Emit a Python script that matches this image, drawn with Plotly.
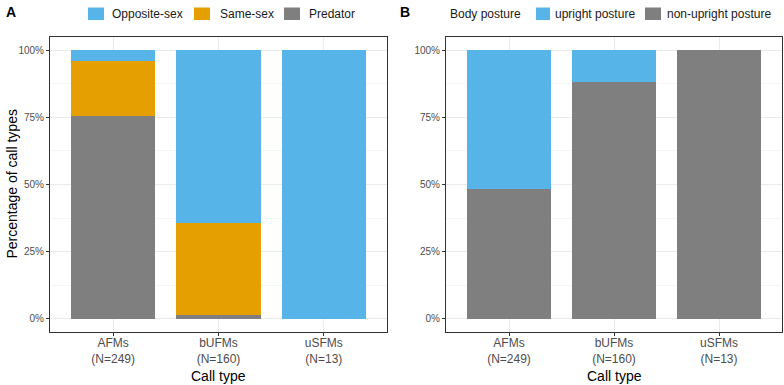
import plotly.graph_objects as go

# ---- data ----
call_types = ["AFMs<br>(N=249)", "bUFMs<br>(N=160)", "uSFMs<br>(N=13)"]

# Panel A: context proportions
predator = [0.755, 0.0125, 0.0]
same_sex = [0.205, 0.344, 0.0]
opposite_sex = [0.040, 0.6435, 1.0]

# Panel B: body posture proportions
non_upright = [0.482, 0.881, 1.0]
upright = [0.518, 0.119, 0.0]

# legend labels
legend_a = ["Opposite-sex", "Same-sex", "Predator"]
legend_b = ["upright posture", "non-upright posture"]

BLUE = "#56B4E9"
ORANGE = "#E69F00"
GREY = "#7F7F7F"
FONT = "Liberation Sans"

W, H = 784, 385
def px(x):
    return x / W
def py(y):
    return 1 - y / H

fig = go.Figure()

xs = [0, 1, 2]
# panel A traces (bottom to top)
fig.add_trace(go.Bar(x=xs, y=predator, name="Predator", marker_color=GREY, marker_line_width=0,
                     width=0.8, xaxis="x", yaxis="y"))
fig.add_trace(go.Bar(x=xs, y=same_sex, name="Same-sex", marker_color=ORANGE, marker_line_width=0,
                     width=0.8, xaxis="x", yaxis="y"))
fig.add_trace(go.Bar(x=xs, y=opposite_sex, name="Opposite-sex", marker_color=BLUE, marker_line_width=0,
                     width=0.8, xaxis="x", yaxis="y"))
# panel B traces
fig.add_trace(go.Bar(x=xs, y=non_upright, name="non-upright posture", marker_color=GREY, marker_line_width=0,
                     width=0.8, xaxis="x2", yaxis="y2"))
fig.add_trace(go.Bar(x=xs, y=upright, name="upright posture", marker_color=BLUE, marker_line_width=0,
                     width=0.8, xaxis="x2", yaxis="y2"))

ytickvals = [0, 0.25, 0.5, 0.75, 1.0]
yticktext = ["0%", "25%", "50%", "75%", "100%"]

common_x = dict(
    range=[-0.6, 2.6], tickmode="array", tickvals=xs, ticktext=call_types,
    showgrid=True, gridcolor="#EBEBEB", gridwidth=1,
    ticks="outside", ticklen=3, tickcolor="#333333", ticklabelstandoff=-3,
    tickfont=dict(family=FONT, size=12, color="#4D4D4D"),
    showline=True, mirror=True, linecolor="#333333", linewidth=1,
    zeroline=False, fixedrange=True, automargin=False,
)
common_y = dict(
    range=[-0.05, 1.05], tickmode="array", tickvals=ytickvals, ticktext=yticktext,
    showgrid=True, gridcolor="#EBEBEB", gridwidth=1,
    minor=dict(tickvals=[0.125, 0.375, 0.625, 0.875], showgrid=True, gridcolor="#F5F5F5", gridwidth=1),
    ticks="outside", ticklen=3, tickcolor="#333333",
    tickfont=dict(family=FONT, size=10, color="#4D4D4D"),
    showline=True, mirror=True, linecolor="#333333", linewidth=1,
    zeroline=False, fixedrange=True, automargin=False,
)

title_font = dict(family=FONT, size=14, color="black")
legend_font = dict(family=FONT, size=12, color="#1A1A1A")

annotations = [
    dict(text="<b>A</b>", x=px(4), y=py(2), xref="paper", yref="paper", xanchor="left", yanchor="top",
         showarrow=False, font=dict(family=FONT, size=14, color="black")),
    dict(text="<b>B</b>", x=px(398), y=py(2), xref="paper", yref="paper", xanchor="left", yanchor="top",
         showarrow=False, font=dict(family=FONT, size=14, color="black")),
    dict(text="Body posture", x=px(448), y=py(14), xref="paper", yref="paper", xanchor="left",
         yanchor="middle", showarrow=False, font=legend_font),
    dict(text="Call type", x=px(218.5), y=py(376), xref="paper", yref="paper", xanchor="center",
         yanchor="middle", showarrow=False, font=title_font),
    dict(text="Call type", x=px(614), y=py(376), xref="paper", yref="paper", xanchor="center",
         yanchor="middle", showarrow=False, font=title_font),
    dict(text="Percentage of call types", x=px(11), y=py(184.5), xref="paper", yref="paper",
         xanchor="center", yanchor="middle", textangle=-90, showarrow=False, font=title_font),
]
shapes = []

# legend keys (layout positions in pixels)
key_a = [(88, 110, BLUE), (194, 218, ORANGE), (284, 307, GREY)]
key_b = [(536, 553, BLUE), (645, 665, GREY)]
for (sx, tx, col), label in list(zip(key_a, legend_a)) + list(zip(key_b, legend_b)):
    shapes.append(dict(type="rect", xref="paper", yref="paper",
                       x0=px(sx), x1=px(min(sx + 16, tx - 3)), y0=py(20), y1=py(7.5),
                       fillcolor=col, line_width=0, layer="above"))
    annotations.append(dict(text=label, x=px(tx), y=py(14), xref="paper", yref="paper",
                            xanchor="left", yanchor="middle", showarrow=False, font=legend_font))

fig.update_layout(
    width=W, height=H,
    margin=dict(l=0, r=0, t=0, b=0),
    paper_bgcolor="white", plot_bgcolor="white",
    barmode="stack", bargap=0, showlegend=False,
    font=dict(family=FONT, color="black"),
    xaxis=dict(domain=[px(50), px(387)], anchor="y", **common_x),
    yaxis=dict(domain=[py(332), py(37)], anchor="x", **common_y),
    xaxis2=dict(domain=[px(446), px(782)], anchor="y2", **common_x),
    yaxis2=dict(domain=[py(332), py(37)], anchor="x2", **common_y),
    annotations=annotations,
    shapes=shapes,
)

fig.write_html("out.html")
